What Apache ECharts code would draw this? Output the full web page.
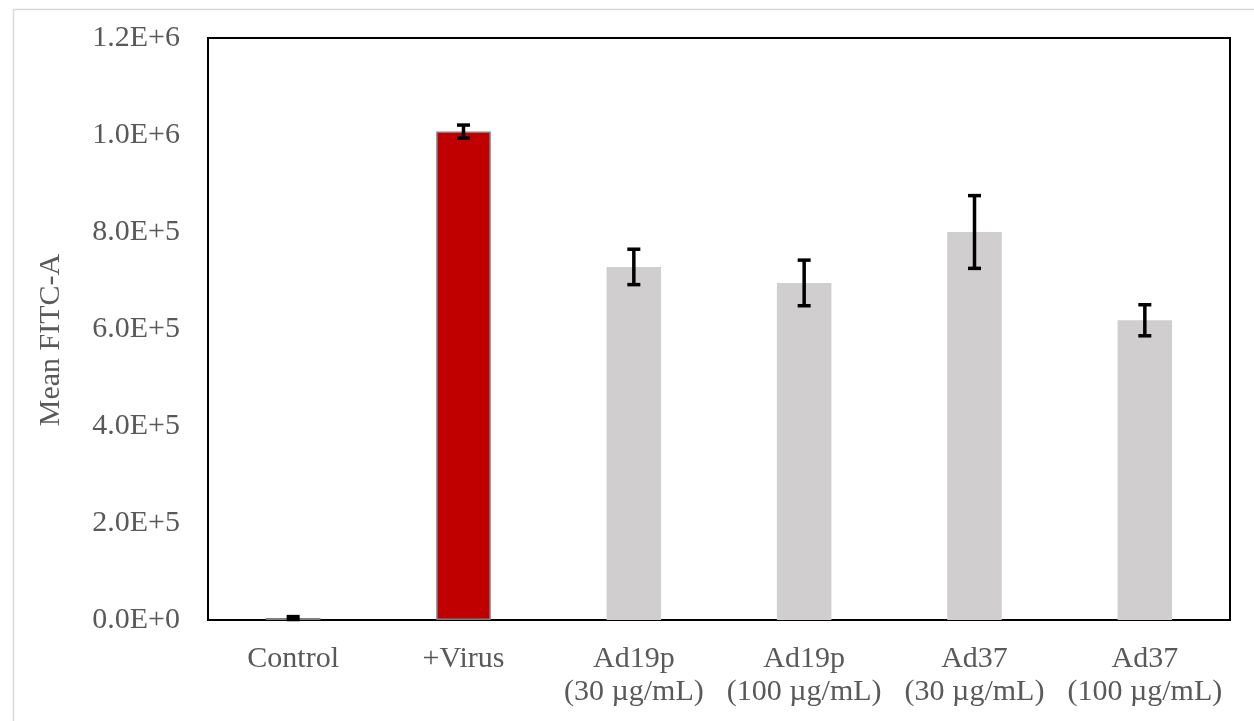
<!DOCTYPE html>
<html>
<head>
<meta charset="utf-8">
<script src="https://cdn.jsdelivr.net/npm/echarts@6/dist/echarts.min.js"></script>
<style>
html,body{margin:0;padding:0;background:#fff;}
#chart{width:1254px;height:721px;}
</style>
</head>
<body>
<div id="chart"></div>
<script>
var categories = ['Control', '+Virus', 'Ad19p\n(30 µg/mL)', 'Ad19p\n(100 µg/mL)', 'Ad37\n(30 µg/mL)', 'Ad37\n(100 µg/mL)'];
var meanValues = [4000, 1007000, 728000, 695000, 800000, 618000];
var errorValues = [3000, 13500, 36500, 47000, 75000, 32000];
var barColors = ['#D0CECE', '#C00000', '#D0CECE', '#D0CECE', '#D0CECE', '#D0CECE'];
var barBorders = ['#7F7F7F', '#7F7F7F', null, null, null, null];
var yTickLabels = {0: '0.0E+0', 200000: '2.0E+5', 400000: '4.0E+5', 600000: '6.0E+5', 800000: '8.0E+5', 1000000: '1.0E+6', 1200000: '1.2E+6'};

var font = 'Liberation Serif';
var chart = echarts.init(document.getElementById('chart'));

var barData = meanValues.map(function (v, i) {
  var st = { color: barColors[i] };
  if (barBorders[i]) { st.borderColor = barBorders[i]; st.borderWidth = 1.5; }
  return { value: v, itemStyle: st };
});
var errData = meanValues.map(function (v, i) { return [i, v - errorValues[i], v + errorValues[i]]; });

chart.setOption({
  animation: false,
  backgroundColor: '#fff',
  graphic: [{
    type: 'rect', left: 11, top: 7, silent: true,
    shape: { x: 0, y: 0, width: 1400, height: 900 },
    style: { fill: null, stroke: '#D9D9D9', lineWidth: 1.5 }
  }],
  grid: { left: 208, top: 38, right: 24, bottom: 101, show: true, borderColor: '#000', borderWidth: 2, backgroundColor: 'transparent' },
  xAxis: {
    type: 'category', data: categories,
    axisLine: { lineStyle: { color: '#000', width: 2 } },
    axisTick: { show: false },
    axisLabel: { color: '#595959', fontFamily: font, fontSize: 30, margin: 23, lineHeight: 33, interval: 0 }
  },
  yAxis: {
    type: 'value', min: 0, max: 1200000, interval: 200000,
    name: 'Mean FITC-A', nameLocation: 'middle', nameGap: 142,
    nameTextStyle: { color: '#595959', fontFamily: font, fontSize: 30, padding: [0, 22, 0, 0] },
    axisLine: { show: true, lineStyle: { color: '#000', width: 2 } },
    axisTick: { show: false },
    splitLine: { show: false },
    axisLabel: { color: '#595959', fontFamily: font, fontSize: 30, margin: 28,
      formatter: function (v) { return yTickLabels[v] !== undefined ? yTickLabels[v] : ''; } }
  },
  series: [{
    type: 'bar', data: barData, barWidth: '32%'
  }, {
    type: 'custom', data: errData, z: 10,
    renderItem: function (params, api) {
      var x = api.value(0);
      var lo = api.coord([x, api.value(1)]);
      var hi = api.coord([x, api.value(2)]);
      var hw = 6.5;
      var st = { stroke: '#000', lineWidth: 3.5 };
      return {
        type: 'group',
        children: [
          { type: 'line', shape: { x1: lo[0], y1: lo[1], x2: hi[0], y2: hi[1] }, style: st },
          { type: 'line', shape: { x1: lo[0] - hw, y1: lo[1], x2: lo[0] + hw, y2: lo[1] }, style: st },
          { type: 'line', shape: { x1: hi[0] - hw, y1: hi[1], x2: hi[0] + hw, y2: hi[1] }, style: st }
        ]
      };
    }
  }]
});
</script>
</body>
</html>
